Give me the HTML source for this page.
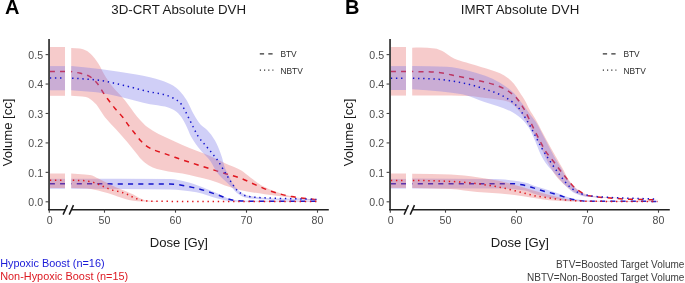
<!DOCTYPE html>
<html><head><meta charset="utf-8"><style>
html,body{margin:0;padding:0;background:#fff;width:685px;height:283px;overflow:hidden}
svg{display:block;will-change:transform}
text{font-family:"Liberation Sans",sans-serif}
.tk{font-size:10.6px;fill:#4d4d4d}
.ttl{font-size:13.3px;fill:#1a1a1a}
.axt{font-size:13.1px;fill:#1a1a1a}
.lg{font-size:8.4px;fill:#2a2a2a}
.lab{font-size:20px;font-weight:bold;fill:#000}
</style></head><body>
<svg width="685" height="283" viewBox="0 0 685 283">
<g transform="translate(0,0)">
<rect x="49.8" y="47.0" width="15.200000000000003" height="48.8" fill="#e56a6a" fill-opacity="0.35"/>
<path d="M71.20,48.00 C74.13,48.20 77.07,48.26 80.00,48.60 C82.00,48.83 84.00,49.53 86.00,50.40 C88.00,51.27 90.00,53.23 92.00,55.20 C93.60,56.77 95.20,58.93 96.80,61.20 C98.03,62.95 99.27,64.96 100.50,67.20 C101.37,68.78 102.23,70.96 103.10,72.50 C106.20,78.02 109.30,82.54 112.40,86.50 C116.50,91.74 120.60,95.06 124.70,100.00 C128.93,105.10 133.17,112.17 137.40,117.00 C140.93,121.03 144.47,124.94 148.00,127.60 C151.53,130.26 155.07,132.12 158.60,134.00 C160.73,135.14 162.87,136.10 165.00,137.10 C170.80,139.83 176.60,142.53 182.40,145.00 C187.13,147.01 191.87,148.81 196.60,150.70 C201.07,152.48 205.53,154.07 210.00,156.00 C215.00,158.16 220.00,160.89 225.00,163.20 C230.30,165.65 235.60,167.26 240.90,170.30 C244.07,172.12 247.23,175.18 250.40,177.50 C254.13,180.23 257.87,183.34 261.60,185.40 C266.37,188.03 271.13,190.16 275.90,191.80 C282.77,194.16 289.63,196.33 296.50,197.40 C303.17,198.44 309.83,198.87 316.50,199.60 L316.50,200.50 C309.83,199.73 303.17,199.00 296.50,198.20 C285.90,196.93 275.30,195.74 264.70,194.20 C256.77,193.05 248.83,191.95 240.90,190.20 C235.60,189.03 230.30,187.14 225.00,185.40 C220.00,183.76 215.00,181.43 210.00,180.00 C205.53,178.72 201.07,177.85 196.60,176.80 C191.87,175.68 187.13,174.36 182.40,173.50 C177.70,172.65 173.00,172.23 168.30,171.40 C164.53,170.74 160.77,170.10 157.00,169.00 C154.17,168.17 151.33,166.84 148.50,165.20 C146.17,163.85 143.83,161.88 141.50,159.60 C139.83,157.97 138.17,155.55 136.50,153.50 C133.27,149.53 130.03,145.33 126.80,141.50 C123.27,137.32 119.73,133.41 116.20,129.50 C112.67,125.59 109.13,122.31 105.60,118.00 C102.07,113.69 98.53,106.37 95.00,103.20 C91.97,100.48 88.93,97.60 85.90,97.10 C81.00,96.29 76.10,96.23 71.20,95.80 Z" fill="#e56a6a" fill-opacity="0.35"/>
<path d="M49.8,71.6 L65.0,71.6" fill="none" stroke="#e0161e" stroke-width="1.5" stroke-dasharray="5.1 5.15"/>
<path d="M71.20,71.60 C74.33,72.17 77.47,72.57 80.60,73.30 C83.27,73.92 85.93,74.65 88.60,75.90 C91.23,77.13 93.87,79.68 96.50,82.50 C99.17,85.36 101.83,90.65 104.50,94.50 C105.57,96.04 106.63,97.55 107.70,99.00 C110.13,102.31 112.57,105.57 115.00,108.50 C117.53,111.55 120.07,113.83 122.60,117.00 C124.73,119.67 126.87,123.15 129.00,126.00 C131.10,128.80 133.20,131.38 135.30,134.00 C137.20,136.37 139.10,138.98 141.00,141.00 C142.63,142.73 144.27,144.45 145.90,145.60 C148.60,147.50 151.30,148.87 154.00,150.00 C156.97,151.24 159.93,151.97 162.90,153.00 C166.87,154.38 170.83,155.92 174.80,157.30 C182.03,159.81 189.27,162.16 196.50,164.50 C206.00,167.58 215.50,170.57 225.00,173.50 C230.30,175.13 235.60,176.39 240.90,178.30 C246.20,180.21 251.50,183.16 256.80,185.40 C262.10,187.64 267.40,190.15 272.70,191.80 C279.07,193.78 285.43,195.52 291.80,196.60 C300.03,198.00 308.27,198.67 316.50,199.70" fill="none" stroke="#e0161e" stroke-width="1.5" stroke-dasharray="5.1 5.15" stroke-dashoffset="4.1"/>
<rect x="49.8" y="178.8" width="15.200000000000003" height="10.0" fill="#7976e8" fill-opacity="0.35"/>
<path d="M71.20,178.80 C104.13,178.87 137.07,178.83 170.00,179.00 C175.30,179.03 180.60,180.51 185.90,181.70 C191.20,182.89 196.50,185.04 201.80,187.00 C207.10,188.96 212.40,191.34 217.70,193.60 C222.13,195.49 226.57,198.67 231.00,199.40 C235.67,200.16 240.33,200.77 245.00,200.80 C268.83,200.96 292.67,200.93 316.50,201.00 L316.50,201.80 C288.87,201.67 261.23,201.73 233.60,201.40 C228.30,201.34 223.00,199.60 217.70,198.40 C210.63,196.81 203.57,193.44 196.50,192.30 C187.67,190.88 178.83,189.52 170.00,189.40 C137.07,188.94 104.13,189.00 71.20,188.80 Z" fill="#7976e8" fill-opacity="0.35"/>
<path d="M49.8,183.8 L65.0,183.8" fill="none" stroke="#1414cc" stroke-width="1.5" stroke-dasharray="5.1 5.15"/>
<path d="M71.20,183.80 C104.13,183.90 137.07,183.86 170.00,184.10 C178.83,184.16 187.67,186.42 196.50,188.30 C203.57,189.80 210.63,192.62 217.70,194.90 C223.00,196.61 228.30,199.65 233.60,200.20 C239.07,200.77 244.53,201.18 250.00,201.20 C272.17,201.28 294.33,201.27 316.50,201.30" fill="none" stroke="#1414cc" stroke-width="1.5" stroke-dasharray="5.1 5.15" stroke-dashoffset="4.7"/>
<rect x="49.8" y="66.1" width="15.200000000000003" height="24.200000000000003" fill="#7976e8" fill-opacity="0.35"/>
<path d="M71.20,66.10 C81.40,67.17 91.60,68.04 101.80,69.30 C113.30,70.73 124.80,72.58 136.30,74.60 C140.87,75.40 145.43,76.26 150.00,77.30 C153.83,78.18 157.67,79.11 161.50,80.40 C165.33,81.69 169.17,83.30 173.00,85.60 C175.30,86.98 177.60,88.96 179.90,91.30 C182.17,93.61 184.43,96.70 186.70,100.30 C189.00,103.95 191.30,110.06 193.60,114.00 C195.90,117.94 198.20,121.91 200.50,124.40 C202.70,126.78 204.90,127.73 207.10,130.00 C209.73,132.72 212.37,136.05 215.00,140.60 C217.23,144.46 219.47,150.06 221.70,156.50 C222.80,159.67 223.90,165.18 225.00,168.00 C226.33,171.42 227.67,173.25 229.00,176.00 C230.10,178.27 231.20,181.22 232.30,183.00 C233.87,185.53 235.43,187.44 237.00,189.00 C238.33,190.33 239.67,191.48 241.00,192.30 C243.50,193.83 246.00,195.37 248.50,195.80 C259.00,197.62 269.50,198.30 280.00,198.60 C292.17,198.94 304.33,199.00 316.50,199.20 L316.50,200.50 C304.33,200.40 292.17,200.38 280.00,200.20 C273.33,200.10 266.67,199.75 260.00,199.30 C255.00,198.96 250.00,198.50 245.00,197.40 C242.33,196.81 239.67,194.99 237.00,193.00 C235.43,191.83 233.87,189.65 232.30,188.00 C230.70,186.32 229.10,184.56 227.50,183.00 C225.67,181.22 223.83,179.85 222.00,178.00 C220.23,176.22 218.47,174.41 216.70,172.00 C214.74,169.33 212.79,164.55 210.83,161.80 C206.95,156.35 203.08,153.60 199.20,148.60 C196.57,145.20 193.93,141.70 191.30,137.00 C189.40,133.61 187.50,127.94 185.60,124.40 C183.70,120.86 181.80,117.27 179.90,115.20 C177.60,112.69 175.30,110.79 173.00,109.60 C170.33,108.22 167.67,107.22 165.00,106.60 C160.00,105.43 155.00,105.16 150.00,104.20 C141.00,102.48 132.00,99.38 123.00,97.40 C114.17,95.45 105.33,93.19 96.50,92.20 C88.07,91.25 79.63,90.87 71.20,90.20 Z" fill="#7976e8" fill-opacity="0.35"/>
<path d="M49.8,78.1 L65.0,78.1" fill="none" stroke="#1414cc" stroke-width="1.5" stroke-dasharray="1.4 3.72"/>
<path d="M71.20,78.10 C79.63,78.70 88.07,79.02 96.50,79.90 C105.33,80.82 114.17,83.24 123.00,85.20 C131.83,87.16 140.67,89.93 149.50,91.80 C154.27,92.81 159.03,93.27 163.80,94.50 C166.87,95.29 169.93,96.49 173.00,98.00 C175.30,99.13 177.60,100.41 179.90,102.60 C181.40,104.03 182.90,106.82 184.40,109.40 C185.93,112.04 187.47,115.53 189.00,118.60 C190.53,121.67 192.07,124.82 193.60,127.80 C195.13,130.78 196.67,134.19 198.20,136.50 C201.17,140.97 204.13,143.56 207.10,147.20 C210.63,151.54 214.17,155.46 217.70,160.50 C220.27,164.16 222.83,168.89 225.40,173.00 C227.40,176.20 229.40,179.58 231.40,182.50 C233.50,185.56 235.60,189.23 237.70,191.00 C240.37,193.25 243.03,195.16 245.70,195.80 C249.40,196.69 253.10,197.17 256.80,197.40 C276.70,198.66 296.60,198.73 316.50,199.40" fill="none" stroke="#1414cc" stroke-width="1.5" stroke-dasharray="1.4 3.72" stroke-dashoffset="4.2"/>
<rect x="49.8" y="173.5" width="15.200000000000003" height="14.5" fill="#e56a6a" fill-opacity="0.35"/>
<path d="M71.20,173.60 C75.67,173.93 80.13,174.27 84.60,174.60 C86.40,174.73 88.20,174.78 90.00,175.00 C92.93,175.35 95.87,177.43 98.80,178.80 C101.77,180.18 104.73,181.83 107.70,183.30 C110.63,184.76 113.57,186.36 116.50,187.60 C119.43,188.84 122.37,189.68 125.30,190.90 C127.97,192.01 130.63,193.23 133.30,194.60 C135.33,195.65 137.37,197.21 139.40,198.10 C141.77,199.14 144.13,200.34 146.50,200.60 C151.00,201.09 155.50,201.39 160.00,201.40 C212.17,201.49 264.33,201.47 316.50,201.50 L316.50,201.80 C261.00,201.73 205.50,201.78 150.00,201.60 C145.90,201.59 141.80,201.43 137.70,201.20 C134.73,201.04 131.77,200.49 128.80,199.90 C125.87,199.32 122.93,198.18 120.00,197.20 C118.33,196.64 116.67,195.94 115.00,195.40 C110.53,193.96 106.07,192.68 101.60,191.60 C96.87,190.45 92.13,188.90 87.40,188.60 C82.00,188.25 76.60,188.20 71.20,188.00 Z" fill="#e56a6a" fill-opacity="0.35"/>
<path d="M49.8,180.3 L65.0,180.3" fill="none" stroke="#e0161e" stroke-width="1.5" stroke-dasharray="1.4 3.72"/>
<path d="M71.20,180.30 C75.20,180.40 79.20,180.42 83.20,180.60 C84.83,180.67 86.47,180.94 88.10,181.20 C89.90,181.48 91.70,181.89 93.50,182.40 C95.13,182.86 96.77,183.62 98.40,184.30 C99.87,184.91 101.33,185.65 102.80,186.30 C104.43,187.02 106.07,187.77 107.70,188.40 C109.30,189.02 110.90,189.64 112.50,190.10 C114.13,190.57 115.77,190.90 117.40,191.30 C119.00,191.70 120.60,192.02 122.20,192.50 C123.83,192.99 125.47,193.61 127.10,194.30 C128.57,194.92 130.03,195.81 131.50,196.50 C133.10,197.25 134.70,198.00 136.30,198.60 C137.93,199.21 139.57,199.89 141.20,200.20 C142.97,200.53 144.73,200.72 146.50,200.90 C148.13,201.06 149.77,201.29 151.40,201.30 C206.43,201.58 261.47,201.50 316.50,201.60" fill="none" stroke="#e0161e" stroke-width="1.5" stroke-dasharray="1.4 3.72" stroke-dashoffset="3.5"/>
<line x1="49.05" y1="39" x2="49.05" y2="210.2" stroke="#454545" stroke-width="1.9"/>
<line x1="45.6" y1="54.60" x2="49" y2="54.60" stroke="#454545" stroke-width="1.1"/>
<text x="43.1" y="58.90" text-anchor="end" class="tk">0.5</text>
<line x1="45.6" y1="84.04" x2="49" y2="84.04" stroke="#454545" stroke-width="1.1"/>
<text x="43.1" y="88.34" text-anchor="end" class="tk">0.4</text>
<line x1="45.6" y1="113.48" x2="49" y2="113.48" stroke="#454545" stroke-width="1.1"/>
<text x="43.1" y="117.78" text-anchor="end" class="tk">0.3</text>
<line x1="45.6" y1="142.92" x2="49" y2="142.92" stroke="#454545" stroke-width="1.1"/>
<text x="43.1" y="147.22" text-anchor="end" class="tk">0.2</text>
<line x1="45.6" y1="172.36" x2="49" y2="172.36" stroke="#454545" stroke-width="1.1"/>
<text x="43.1" y="176.66" text-anchor="end" class="tk">0.1</text>
<line x1="45.6" y1="201.80" x2="49" y2="201.80" stroke="#454545" stroke-width="1.1"/>
<text x="43.1" y="206.10" text-anchor="end" class="tk">0.0</text>
<path d="M48.1,209.75 L65,209.75 M71.5,209.75 L328.8,209.75" stroke="#222" stroke-width="1.6" fill="none"/>
<path d="M63.1,214.6 L67.4,205.1 M69.2,214.6 L73.5,205.1" stroke="#1a1a1a" stroke-width="1.5" fill="none"/>
<line x1="49.3" y1="209.75" x2="49.3" y2="212.7" stroke="#454545" stroke-width="1.1"/>
<text x="49.8" y="223.6" text-anchor="middle" class="tk">0</text>
<line x1="104.5" y1="209.75" x2="104.5" y2="212.7" stroke="#454545" stroke-width="1.1"/>
<text x="104.5" y="223.6" text-anchor="middle" class="tk">50</text>
<line x1="175.5" y1="209.75" x2="175.5" y2="212.7" stroke="#454545" stroke-width="1.1"/>
<text x="175.5" y="223.6" text-anchor="middle" class="tk">60</text>
<line x1="246.5" y1="209.75" x2="246.5" y2="212.7" stroke="#454545" stroke-width="1.1"/>
<text x="246.5" y="223.6" text-anchor="middle" class="tk">70</text>
<line x1="317.5" y1="209.75" x2="317.5" y2="212.7" stroke="#454545" stroke-width="1.1"/>
<text x="317.5" y="223.6" text-anchor="middle" class="tk">80</text>
</g>
<g transform="translate(341,0)">
<rect x="49.8" y="47.0" width="15.200000000000003" height="48.599999999999994" fill="#e56a6a" fill-opacity="0.35"/>
<path d="M71.20,47.70 C73.80,47.67 76.40,47.60 79.00,47.60 C83.93,47.60 88.87,47.90 93.80,48.40 C96.30,48.66 98.80,49.95 101.30,51.10 C104.17,52.42 107.03,55.09 109.90,56.70 C111.97,57.86 114.03,59.00 116.10,59.80 C120.20,61.38 124.30,62.27 128.40,63.50 C132.53,64.74 136.67,65.91 140.80,67.20 C146.87,69.09 152.93,70.48 159.00,73.20 C161.83,74.47 164.67,76.29 167.50,78.50 C169.37,79.96 171.23,81.87 173.10,84.10 C175.00,86.37 176.90,89.70 178.80,92.60 C180.70,95.50 182.60,98.14 184.50,101.50 C185.75,103.71 186.99,106.73 188.24,109.00 C190.29,112.74 192.35,115.51 194.40,119.10 C196.91,123.50 199.43,128.62 201.94,133.30 C204.69,138.43 207.45,143.59 210.20,148.50 C212.10,151.89 214.00,155.07 215.90,158.40 C217.77,161.67 219.63,164.95 221.50,168.30 C223.63,172.13 225.77,177.02 227.90,180.00 C230.60,183.77 233.30,186.94 236.00,189.00 C239.00,191.29 242.00,193.21 245.00,194.20 C248.53,195.36 252.07,196.29 255.60,196.60 C268.40,197.74 281.20,197.89 294.00,198.40 C301.50,198.70 309.00,198.93 316.50,199.20 L316.50,199.50 C301.00,199.00 285.50,198.63 270.00,198.00 C262.33,197.69 254.67,197.54 247.00,196.80 C243.33,196.44 239.67,195.03 236.00,193.50 C232.33,191.97 228.67,188.98 225.00,186.00 C221.67,183.29 218.33,180.20 215.00,176.00 C212.39,172.71 209.78,167.90 207.17,163.00 C205.04,158.99 202.90,153.69 200.77,149.30 C198.28,144.17 195.79,139.00 193.30,134.50 C190.83,130.04 188.37,125.99 185.90,122.20 C183.05,117.81 180.19,113.02 177.34,110.00 C174.06,106.53 170.78,102.87 167.50,101.80 C163.83,100.60 160.17,100.18 156.50,99.60 C151.80,98.86 147.10,98.40 142.40,97.80 C137.70,97.20 133.00,96.25 128.30,96.00 C122.20,95.67 116.10,95.40 110.00,95.40 C97.07,95.40 84.13,95.53 71.20,95.60 Z" fill="#e56a6a" fill-opacity="0.35"/>
<path d="M49.8,71.6 L65.0,71.6" fill="none" stroke="#e0161e" stroke-width="1.5" stroke-dasharray="5.1 5.15"/>
<path d="M71.20,71.60 C77.47,71.70 83.73,71.72 90.00,71.90 C93.77,72.01 97.53,72.49 101.30,73.00 C104.17,73.39 107.03,74.20 109.90,74.80 C116.03,76.08 122.17,77.29 128.30,78.60 C133.00,79.60 137.70,80.52 142.40,81.70 C147.10,82.88 151.80,84.05 156.50,85.80 C160.22,87.18 163.94,89.03 167.66,91.40 C170.27,93.07 172.89,95.21 175.50,98.00 C177.93,100.60 180.37,104.52 182.80,108.60 C185.47,113.08 188.13,119.27 190.80,124.60 C193.27,129.53 195.73,134.70 198.20,139.40 C200.47,143.72 202.73,148.39 205.00,151.80 C207.40,155.41 209.80,157.89 212.20,161.00 C215.73,165.58 219.27,170.66 222.80,175.00 C226.67,179.75 230.53,185.37 234.40,188.30 C238.80,191.64 243.20,194.82 247.60,195.70 C252.90,196.77 258.20,197.17 263.50,197.60 C273.67,198.43 283.83,199.13 294.00,199.40 C301.50,199.60 309.00,199.67 316.50,199.80" fill="none" stroke="#e0161e" stroke-width="1.5" stroke-dasharray="5.1 5.15" stroke-dashoffset="4.0"/>
<rect x="49.8" y="178.9" width="15.200000000000003" height="9.699999999999989" fill="#7976e8" fill-opacity="0.35"/>
<path d="M71.20,178.60 C97.30,178.73 123.40,178.72 149.50,179.00 C152.67,179.03 155.83,179.15 159.00,179.30 C163.13,179.49 167.27,180.01 171.40,180.50 C175.50,180.99 179.60,181.52 183.70,182.40 C187.83,183.28 191.97,185.37 196.10,186.70 C200.20,188.02 204.30,189.08 208.40,190.40 C212.53,191.73 216.67,193.20 220.80,194.70 C223.53,195.69 226.27,197.03 229.00,197.80 C231.67,198.55 234.33,199.24 237.00,199.60 C241.33,200.19 245.67,200.77 250.00,200.80 C272.17,200.96 294.33,200.93 316.50,201.00 L316.50,201.60 C287.33,201.37 258.17,201.46 229.00,200.90 C224.20,200.81 219.40,199.80 214.60,199.00 C208.43,197.97 202.27,196.44 196.10,194.70 C191.97,193.53 187.83,190.94 183.70,190.40 C175.47,189.33 167.23,188.60 159.00,188.60 C129.73,188.60 100.47,188.60 71.20,188.60 Z" fill="#7976e8" fill-opacity="0.35"/>
<path d="M49.8,183.8 L65.0,183.8" fill="none" stroke="#1414cc" stroke-width="1.5" stroke-dasharray="5.1 5.15"/>
<path d="M71.20,183.80 C105.00,183.80 138.80,183.80 172.60,183.80 C175.90,183.80 179.20,184.51 182.50,185.10 C185.80,185.69 189.10,186.92 192.40,187.90 C195.70,188.88 199.00,190.08 202.30,191.00 C205.60,191.92 208.90,192.57 212.20,193.50 C215.47,194.42 218.73,195.61 222.00,196.60 C225.23,197.58 228.47,198.79 231.70,199.40 C236.13,200.23 240.57,201.17 245.00,201.20 C268.83,201.37 292.67,201.33 316.50,201.40" fill="none" stroke="#1414cc" stroke-width="1.5" stroke-dasharray="5.1 5.15" stroke-dashoffset="4.7"/>
<rect x="49.8" y="66.1" width="15.200000000000003" height="23.900000000000006" fill="#7976e8" fill-opacity="0.35"/>
<path d="M71.20,66.10 C82.70,66.33 94.20,66.35 105.70,66.80 C113.27,67.09 120.83,69.23 128.40,71.00 C133.67,72.23 138.93,73.86 144.20,75.80 C149.13,77.62 154.07,79.94 159.00,82.70 C161.83,84.28 164.67,86.23 167.50,88.40 C169.37,89.83 171.23,91.35 173.10,93.30 C174.77,95.04 176.44,97.56 178.11,99.70 C180.00,102.13 181.90,104.46 183.79,107.00 C185.69,109.55 187.60,112.42 189.50,115.00 C191.30,117.44 193.10,119.35 194.90,122.10 C197.27,125.72 199.63,130.85 202.00,135.30 C204.22,139.48 206.45,143.81 208.67,148.00 C210.45,151.36 212.24,154.88 214.02,158.00 C215.84,161.19 217.66,163.86 219.48,167.00 C221.32,170.18 223.16,174.25 225.00,177.00 C227.67,180.99 230.33,184.63 233.00,187.00 C237.00,190.55 241.00,193.98 245.00,195.00 C250.00,196.28 255.00,197.01 260.00,197.30 C278.83,198.39 297.67,198.43 316.50,199.00 L316.50,199.00 C301.00,198.60 285.50,198.30 270.00,197.80 C261.67,197.53 253.33,197.46 245.00,196.80 C241.47,196.52 237.93,195.16 234.40,193.60 C231.11,192.15 227.81,188.81 224.52,185.70 C221.55,182.90 218.59,178.89 215.62,175.50 C211.96,171.32 208.31,168.16 204.65,163.00 C202.98,160.64 201.30,157.68 199.63,154.30 C197.61,150.21 195.58,143.85 193.56,139.40 C191.50,134.87 189.45,130.19 187.39,127.10 C184.99,123.49 182.60,120.63 180.20,118.50 C176.55,115.26 172.90,112.77 169.25,111.00 C160.66,106.84 152.07,105.00 143.48,102.00 C136.05,99.40 128.63,95.62 121.20,94.20 C114.13,92.85 107.07,92.09 100.00,91.40 C90.40,90.46 80.80,89.93 71.20,89.20 Z" fill="#7976e8" fill-opacity="0.35"/>
<path d="M49.8,78.2 L65.0,78.2" fill="none" stroke="#1414cc" stroke-width="1.5" stroke-dasharray="1.4 3.72"/>
<path d="M71.20,78.20 C79.63,78.53 88.07,78.67 96.50,79.20 C102.37,79.57 108.23,80.56 114.10,81.50 C118.83,82.26 123.57,83.25 128.30,84.40 C133.00,85.54 137.70,87.09 142.40,88.60 C147.10,90.11 151.80,91.53 156.50,93.50 C160.17,95.04 163.84,96.85 167.51,99.20 C170.39,101.05 173.27,103.30 176.15,106.30 C179.50,109.79 182.85,115.43 186.20,120.90 C188.67,124.93 191.13,129.88 193.60,134.50 C195.97,138.95 198.35,143.99 200.72,148.10 C203.06,152.14 205.39,155.67 207.73,159.20 C211.09,164.28 214.44,169.34 217.80,173.70 C221.57,178.59 225.33,183.94 229.10,187.00 C232.63,189.87 236.17,192.59 239.70,193.60 C245.87,195.36 252.03,196.33 258.20,196.80 C270.13,197.70 282.07,198.01 294.00,198.40 C301.50,198.65 309.00,198.80 316.50,199.00" fill="none" stroke="#1414cc" stroke-width="1.5" stroke-dasharray="1.4 3.72" stroke-dashoffset="4.4"/>
<rect x="49.8" y="173.5" width="15.200000000000003" height="14.400000000000006" fill="#e56a6a" fill-opacity="0.35"/>
<path d="M71.20,173.70 C84.07,173.97 96.93,174.04 109.80,174.50 C118.63,174.82 127.47,176.07 136.30,177.20 C143.87,178.16 151.43,179.43 159.00,181.00 C163.13,181.86 167.27,183.07 171.40,184.20 C175.50,185.32 179.60,186.57 183.70,187.80 C187.83,189.04 191.97,190.40 196.10,191.60 C200.20,192.79 204.30,193.99 208.40,195.00 C215.27,196.69 222.13,198.61 229.00,199.50 C234.33,200.19 239.67,200.95 245.00,201.00 C268.83,201.24 292.67,201.20 316.50,201.30 L316.50,201.80 C287.67,201.67 258.83,201.69 230.00,201.40 C222.80,201.33 215.60,200.84 208.40,200.30 C200.17,199.68 191.93,197.72 183.70,196.60 C175.47,195.48 167.23,194.21 159.00,193.50 C151.43,192.85 143.87,192.63 136.30,192.00 C127.47,191.27 118.63,189.42 109.80,189.00 C96.93,188.39 84.07,188.27 71.20,187.90 Z" fill="#e56a6a" fill-opacity="0.35"/>
<path d="M49.8,180.5 L65.0,180.5" fill="none" stroke="#e0161e" stroke-width="1.5" stroke-dasharray="1.4 3.72"/>
<path d="M71.20,180.50 C77.47,180.57 83.73,180.60 90.00,180.70 C96.20,180.80 102.40,181.10 108.60,181.40 C115.47,181.73 122.33,182.17 129.20,182.80 C132.57,183.11 135.93,183.64 139.30,184.10 C142.67,184.56 146.03,185.06 149.40,185.60 C152.10,186.03 154.80,186.47 157.50,187.00 C165.00,188.46 172.50,190.49 180.00,192.30 C185.00,193.51 190.00,195.05 195.00,196.00 C198.40,196.64 201.80,197.13 205.20,197.60 C212.27,198.59 219.33,199.72 226.40,200.20 C234.27,200.74 242.13,201.25 250.00,201.30 C272.17,201.45 294.33,201.43 316.50,201.50" fill="none" stroke="#e0161e" stroke-width="1.5" stroke-dasharray="1.4 3.72" stroke-dashoffset="4.4"/>
<line x1="49.05" y1="39" x2="49.05" y2="210.2" stroke="#454545" stroke-width="1.9"/>
<line x1="45.6" y1="54.60" x2="49" y2="54.60" stroke="#454545" stroke-width="1.1"/>
<text x="43.1" y="58.90" text-anchor="end" class="tk">0.5</text>
<line x1="45.6" y1="84.04" x2="49" y2="84.04" stroke="#454545" stroke-width="1.1"/>
<text x="43.1" y="88.34" text-anchor="end" class="tk">0.4</text>
<line x1="45.6" y1="113.48" x2="49" y2="113.48" stroke="#454545" stroke-width="1.1"/>
<text x="43.1" y="117.78" text-anchor="end" class="tk">0.3</text>
<line x1="45.6" y1="142.92" x2="49" y2="142.92" stroke="#454545" stroke-width="1.1"/>
<text x="43.1" y="147.22" text-anchor="end" class="tk">0.2</text>
<line x1="45.6" y1="172.36" x2="49" y2="172.36" stroke="#454545" stroke-width="1.1"/>
<text x="43.1" y="176.66" text-anchor="end" class="tk">0.1</text>
<line x1="45.6" y1="201.80" x2="49" y2="201.80" stroke="#454545" stroke-width="1.1"/>
<text x="43.1" y="206.10" text-anchor="end" class="tk">0.0</text>
<path d="M48.1,209.75 L65,209.75 M71.5,209.75 L328.8,209.75" stroke="#222" stroke-width="1.6" fill="none"/>
<path d="M63.1,214.6 L67.4,205.1 M69.2,214.6 L73.5,205.1" stroke="#1a1a1a" stroke-width="1.5" fill="none"/>
<line x1="49.3" y1="209.75" x2="49.3" y2="212.7" stroke="#454545" stroke-width="1.1"/>
<text x="49.8" y="223.6" text-anchor="middle" class="tk">0</text>
<line x1="104.5" y1="209.75" x2="104.5" y2="212.7" stroke="#454545" stroke-width="1.1"/>
<text x="104.5" y="223.6" text-anchor="middle" class="tk">50</text>
<line x1="175.5" y1="209.75" x2="175.5" y2="212.7" stroke="#454545" stroke-width="1.1"/>
<text x="175.5" y="223.6" text-anchor="middle" class="tk">60</text>
<line x1="246.5" y1="209.75" x2="246.5" y2="212.7" stroke="#454545" stroke-width="1.1"/>
<text x="246.5" y="223.6" text-anchor="middle" class="tk">70</text>
<line x1="317.5" y1="209.75" x2="317.5" y2="212.7" stroke="#454545" stroke-width="1.1"/>
<text x="317.5" y="223.6" text-anchor="middle" class="tk">80</text>
</g>
<text x="5" y="14.3" class="lab">A</text>
<text x="345" y="14.3" class="lab">B</text>
<text x="178.7" y="13.6" text-anchor="middle" class="ttl">3D-CRT Absolute DVH</text>
<text x="520" y="13.6" text-anchor="middle" class="ttl">IMRT Absolute DVH</text>
<text x="178.9" y="247.3" text-anchor="middle" class="axt">Dose [Gy]</text>
<text transform="translate(12.2,132.4) rotate(-90)" x="0" y="0" text-anchor="middle" class="axt">Volume [cc]</text>
<text x="519.9" y="247.3" text-anchor="middle" class="axt">Dose [Gy]</text>
<text transform="translate(353.2,132.4) rotate(-90)" x="0" y="0" text-anchor="middle" class="axt">Volume [cc]</text>
<path d="M259.8,53.8 L272.6,53.8" stroke="#333" stroke-width="1.35" stroke-dasharray="4.3 4.2"/>
<path d="M259.8,70.1 L273.40000000000003,70.1" stroke="#333" stroke-width="1.3" stroke-dasharray="1.2 3.0"/>
<text x="280.4" y="57.0" class="lg">BTV</text>
<text x="280.4" y="73.5" class="lg">NBTV</text>
<path d="M602.8,53.8 L615.5999999999999,53.8" stroke="#333" stroke-width="1.35" stroke-dasharray="4.3 4.2"/>
<path d="M602.8,70.1 L616.4,70.1" stroke="#333" stroke-width="1.3" stroke-dasharray="1.2 3.0"/>
<text x="623.4" y="57.0" class="lg">BTV</text>
<text x="623.4" y="73.5" class="lg">NBTV</text>
<text x="0.2" y="266.5" style="font-size:10.9px;fill:#1a1ad8">Hypoxic Boost (n=16)</text>
<text x="0.2" y="280.0" style="font-size:10.9px;fill:#dd1a22">Non-Hypoxic Boost (n=15)</text>
<text x="684.4" y="268.4" text-anchor="end" style="font-size:10px;fill:#3d3d3d">BTV=Boosted Target Volume</text>
<text x="684.4" y="280.6" text-anchor="end" style="font-size:10px;fill:#3d3d3d">NBTV=Non-Boosted Target Volume</text>
</svg>
</body></html>
